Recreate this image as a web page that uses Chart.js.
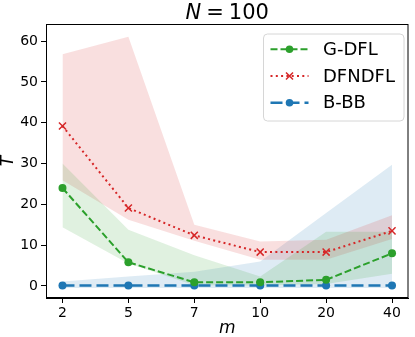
<!DOCTYPE html>
<html>
<head>
<meta charset="utf-8">
<script src="https://cdn.jsdelivr.net/npm/chart.js@4/dist/chart.umd.min.js"></script>
<style>
  body { margin: 0; background: #fff; }
  canvas { display: block; }
</style>
</head>
<body>
<canvas id="chart" width="415" height="337"></canvas>
<script>
// x categories (evenly spaced)
const mLabels = ['2', '5', '7', '10', '20', '40'];
const yTicks = [0, 10, 20, 30, 40, 50, 60];

// G-DFL
const gdfl   = [24.0, 5.8, 0.9, 0.9, 1.5, 8.0];
const gdflLo = [14.4, 5.5, 0.2, 0.1, 0.5, 3.0];
const gdflHi = [30.0, 13.8, 7.5, 2.3, 13.3, 13.3];
// DFNDFL
const dfn   = [39.2, 19.1, 12.4, 8.3, 8.3, 13.5];
const dfnLo = [25.9, 16.2, 11.1, 6.4, 6.4, 11.5];
const dfnHi = [56.8, 61.1, 15.0, 10.9, 11.3, 17.3];
// B-BB
const bbb   = [0.1, 0.1, 0.1, 0.1, 0.1, 0.1];
const bbbLo = [-0.5, -0.5, -0.5, -0.5, -0.5, -0.5];
const bbbHi = [1.1, 2.3, 3.5, 6.0, 17.9, 29.7];

const GREEN = '#2ca02c', RED = '#d62728', BLUE = '#1f77b4';
const FONT = "'DejaVu Sans', sans-serif";

function pts(arr) {
    return arr.map((v, i) => ({x: i, y: v}));
}

function lineSet(label, values, color, dash, style, radius, width) {
    return {
        label: label,
        data: pts(values),
        borderColor: color,
        backgroundColor: color,
        borderDash: dash,
        borderWidth: width,
        pointStyle: style,
        pointRadius: radius,
        pointBorderWidth: style === 'crossRot' ? 1.5 : 0,
        pointBorderColor: color,
        pointBackgroundColor: color,
        fill: false,
        tension: 0
    };
}

function bandSets(lo, hi, rgba) {
    return [
        {data: pts(lo), borderWidth: 0, pointRadius: 0, fill: false, borderColor: 'transparent'},
        {data: pts(hi), borderWidth: 0, pointRadius: 0, fill: '-1', borderColor: 'transparent', backgroundColor: rgba}
    ];
}

const legendItems = [
    {label: 'G-DFL', color: GREEN, dash: [7, 3], width: 2, marker: 'circle'},
    {label: 'DFNDFL', color: RED, dash: [2, 3.3], width: 2, marker: 'x'},
    {label: 'B-BB', color: BLUE, dash: [12, 5], width: 2.5, marker: 'circle'}
];

const framePlugin = {
    id: 'frame',
    afterDraw(chart) {
        const ctx = chart.ctx, a = chart.chartArea;
        ctx.save();
        ctx.strokeStyle = '#000';
        ctx.lineWidth = 1;
        ctx.strokeRect(a.left + 0.5, a.top + 0.5, a.right - a.left - 1, a.bottom - a.top - 1);

        // title  N = 100
        ctx.fillStyle = '#000';
        ctx.textBaseline = 'alphabetic';
        ctx.font = 'italic 21px ' + FONT;
        const wN = ctx.measureText('N').width;
        ctx.font = '21px ' + FONT;
        const wEq = ctx.measureText('=').width;
        const w100 = ctx.measureText('100').width;
        const gap = 5;
        const total = wN + gap + wEq + gap + w100;
        let x = (a.left + a.right) / 2 - total / 2;
        ctx.font = 'italic 21px ' + FONT;
        ctx.fillText('N', x, 18.5);
        x += wN + gap;
        ctx.font = '21px ' + FONT;
        ctx.fillText('=', x, 18.5);
        x += wEq + gap;
        ctx.fillText('100', x, 18.5);

        // axis labels
        ctx.font = 'italic 17px ' + FONT;
        ctx.textAlign = 'center';
        ctx.fillText('m', (a.left + a.right) / 2, 333);
        ctx.save();
        ctx.translate(13, (a.top + a.bottom) / 2);
        ctx.rotate(-Math.PI / 2);
        ctx.fillText('T', 0, 0);
        ctx.restore();

        // legend
        const bx = 263.5, by = 34, bw = 140.5, bh = 87;
        ctx.beginPath();
        ctx.roundRect(bx, by, bw, bh, 4);
        ctx.fillStyle = 'rgba(255,255,255,0.8)';
        ctx.fill();
        ctx.strokeStyle = '#d6d6d6';
        ctx.lineWidth = 1;
        ctx.stroke();
        ctx.textAlign = 'left';
        ctx.textBaseline = 'middle';
        ctx.font = '18px ' + FONT;
        legendItems.forEach((it, i) => {
            const y = 49.3 + i * 26.7;
            ctx.strokeStyle = it.color;
            ctx.lineWidth = it.width;
            ctx.setLineDash(it.dash);
            ctx.beginPath();
            ctx.moveTo(270.5, y);
            ctx.lineTo(308.5, y);
            ctx.stroke();
            ctx.setLineDash([]);
            if (it.marker === 'circle') {
                ctx.fillStyle = it.color;
                ctx.beginPath();
                ctx.arc(289.5, y, 3.8, 0, Math.PI * 2);
                ctx.fill();
            } else {
                ctx.lineWidth = 1.5;
                ctx.beginPath();
                ctx.moveTo(286, y - 3.5); ctx.lineTo(293, y + 3.5);
                ctx.moveTo(286, y + 3.5); ctx.lineTo(293, y - 3.5);
                ctx.stroke();
            }
            ctx.fillStyle = '#000';
            ctx.fillText(it.label, 323, y + 1);
        });
        ctx.restore();
    }
};

const datasets = [
    lineSet('G-DFL', gdfl, GREEN, [7, 3], 'circle', 4, 2),
    lineSet('DFNDFL', dfn, RED, [2, 3.3], 'crossRot', 5, 2),
    lineSet('B-BB', bbb, BLUE, [12, 5], 'circle', 4, 2.5),
    ...bandSets(gdflLo, gdflHi, 'rgba(44,160,44,0.15)'),
    ...bandSets(dfnLo, dfnHi, 'rgba(214,39,40,0.15)'),
    ...bandSets(bbbLo, bbbHi, 'rgba(31,119,180,0.15)')
];

const ctx = document.getElementById('chart').getContext('2d');
const chart = new Chart(ctx, {
    type: 'line',
    data: {datasets: datasets},
    options: {
        responsive: false,
        animation: false,
        layout: {padding: {top: 24, right: 5, left: 0, bottom: 0}},
        plugins: {
            legend: {display: false},
            tooltip: {enabled: false},
            title: {display: false}
        },
        scales: {
            x: {
                type: 'linear',
                min: -0.25,
                max: 5.25,
                afterBuildTicks: (s) => { s.ticks = mLabels.map((l, i) => ({value: i})); },
                afterFit: (s) => { s.height = 39; },
                ticks: {
                    callback: (v) => mLabels[v],
                    color: '#000',
                    font: {family: FONT, size: 14},
                    padding: 2,
                    maxRotation: 0
                },
                grid: {drawOnChartArea: false, drawTicks: true, tickLength: 5, color: '#000'},
                border: {display: true, color: '#000'}
            },
            y: {
                type: 'linear',
                min: -2.95,
                max: 64.2,
                afterBuildTicks: (s) => { s.ticks = yTicks.map(v => ({value: v})); },
                afterFit: (s) => { s.width = 46; },
                ticks: {
                    color: '#000',
                    font: {family: FONT, size: 14},
                    padding: 3
                },
                grid: {drawOnChartArea: false, drawTicks: true, tickLength: 5, color: '#000'},
                border: {display: true, color: '#000'}
            }
        }
    },
    plugins: [framePlugin]
});
</script>
</body>
</html>
